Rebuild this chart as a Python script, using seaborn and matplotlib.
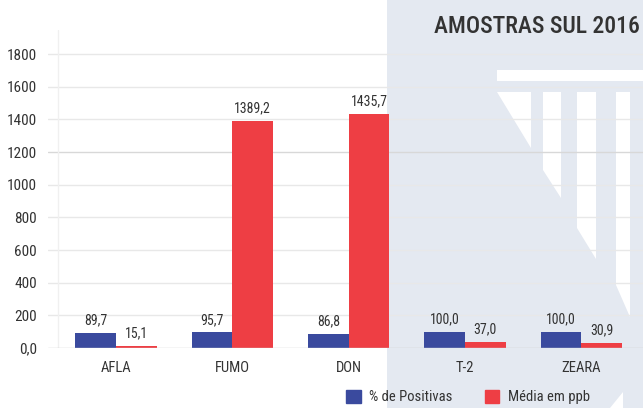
import pandas as pd
import seaborn as sns
import matplotlib.pyplot as plt
from matplotlib.patches import Polygon, Rectangle
from matplotlib import font_manager

# Data
categories = ['AFLA', 'FUMO', 'DON', 'T-2', 'ZEARA']
positivas = [89.7, 95.7, 86.8, 100.0, 100.0]
media_ppb = [15.1, 1389.2, 1435.7, 37.0, 30.9]
series_names = ['% de Positivas', 'Média em ppb']
y_ticks = [0, 200, 400, 600, 800, 1000, 1200, 1400, 1600, 1800]
y_tick_labels = ['0,0', '200', '400', '600', '800', '1000', '1200', '1400', '1600', '1800']

BLUE = '#3a4a9e'
RED = '#ee3e44'
PANEL = '#e4e9f1'
TEXT = '#333333'

df = pd.DataFrame({
    'cat': categories * 2,
    'serie': [series_names[0]] * 5 + [series_names[1]] * 5,
    'val': positivas + media_ppb,
})

sns.set_style('white')
families = []
for name in ['Liberation Sans Narrow', 'Roboto Condensed', 'Roboto', 'DejaVu Sans']:
    try:
        font_manager.findfont(name, fallback_to_default=False)
        families.append(name)
    except Exception:
        pass
plt.rcParams['font.family'] = families

W, H = 643, 408
fig = plt.figure(figsize=(W / 100, H / 100), dpi=100)

# background decoration in pixel coordinates
bg = fig.add_axes([0, 0, 1, 1], zorder=-1)
bg.set_xlim(0, W)
bg.set_ylim(H, 0)
bg.axis('off')
bg.add_patch(Rectangle((387, 0), W - 387, H, color=PANEL, lw=0))
shapes = [
    [(497, 70), (643, 70), (643, 81), (497, 81)],
    [(497, 92), (531, 92), (531, 148)],
    [(543, 92), (561, 92), (561, 198), (543, 170)],
    [(577, 92), (596, 92), (596, 259), (577, 228)],
    [(616, 92), (630, 92), (630, 317), (616, 285)],
    [(610, 408), (623, 392), (623, 408)],
]
for pts in shapes:
    bg.add_patch(Polygon(pts, closed=True, color='white', lw=0))

# main axes
ax = fig.add_axes([48 / W, (H - 348) / H, 1 - 48 / W, (348 - 30) / H])
ax.set_facecolor('none')
sns.barplot(data=df, x='cat', y='val', hue='serie', palette=[BLUE, RED],
            width=0.7, saturation=1, ax=ax, legend=False, zorder=3,
            linewidth=0)

ax.set_xlim(-0.586, 4.53)
ax.set_ylim(0, 1947)
for s in ax.spines.values():
    s.set_visible(False)

for yv in y_ticks[1:]:
    ax.axhline(yv, color='#d8d8d8' if yv == 1200 else '#e8e8e8', lw=1, zorder=1)
ax.axhline(0, color='#cccccc', lw=1, zorder=4)
ax.axvline(-0.5, color='#f0f0f0', lw=1, zorder=1)

ax.set_yticks(y_ticks)
ax.set_yticklabels(y_tick_labels)
ax.tick_params(axis='y', length=0, pad=8, labelsize=11, labelcolor=TEXT)
ax.set_xticks(range(len(categories)))
ax.set_xticklabels(categories)
ax.tick_params(axis='x', length=0, pad=9, labelsize=10.5, labelcolor=TEXT)
ax.set_xticks([i - 0.5 for i in range(len(categories) + 1)], minor=True)
ax.tick_params(axis='x', which='minor', length=30, width=1, color='#e2e2e2')
ax.set_xlabel('')
ax.set_ylabel('')

for cont, vals in zip(ax.containers, [positivas, media_ppb]):
    ax.bar_label(cont, labels=[f'{v:.1f}'.replace('.', ',') for v in vals],
                 padding=4, fontsize=10, color=TEXT)

fig.text(0.995, 0.935, 'AMOSTRAS SUL 2016', ha='right', va='center',
         fontsize=17, fontweight='medium', color=TEXT)

handles = [Rectangle((0, 0), 1, 1, color=c) for c in [BLUE, RED]]
fig.legend(handles, series_names, loc='center', bbox_to_anchor=(468 / W, 11 / H),
           ncol=2, frameon=False, handlelength=1.0, handleheight=1.0,
           handletextpad=0.6, columnspacing=2.2, fontsize=10.5,
           labelcolor=TEXT)

fig.savefig('out.png', dpi=100)
